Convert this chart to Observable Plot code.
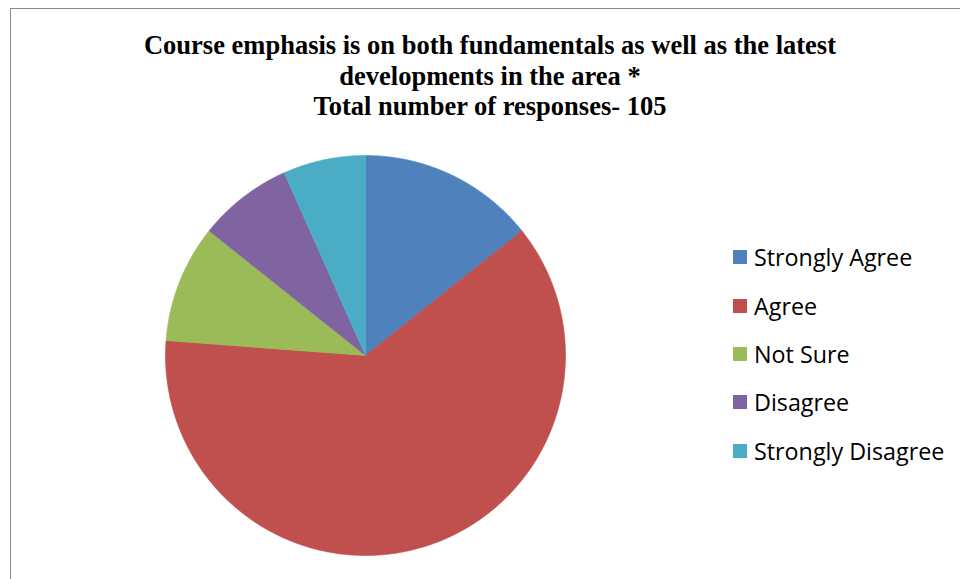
<!DOCTYPE html>
<html>
<head>
<meta charset="utf-8">
<script src="https://cdn.jsdelivr.net/npm/d3@7"></script>
<script src="https://cdn.jsdelivr.net/npm/@observablehq/plot@0.6"></script>
<style>
  html, body { margin: 0; padding: 0; background: #fff; }
  body { width: 960px; height: 579px; position: relative; overflow: hidden; }
  #border { position: absolute; left: 10px; top: 8px; width: 1000px; height: 620px; border: 1.5px solid #8a8a8a; box-sizing: border-box; }
  #chart { position: absolute; left: 0; top: 0; }
  #title { position: absolute; left: 40px; width: 900px; top: 30px; text-align: center;
    font-family: "Liberation Serif", "Times New Roman", serif; font-weight: bold; font-size: 26.5px; line-height: 30.5px; color: #000; }
  #legend { position: absolute; left: 733px; top: 233px; font-family: "Open Sans", "Liberation Sans", sans-serif; font-size: 23.3px; color: #000; }
  .item { height: 48.4px; display: flex; align-items: center; position: relative; }
  .sw { width: 14px; height: 14px; margin-right: 7px; display: inline-block; }
</style>
</head>
<body>
<div id="border"></div>
<div id="chart"></div>
<div id="title">Course emphasis is on both fundamentals as well as the latest<br>developments in the area *<br>Total number of responses- 105</div>
<div id="legend"></div>
<script>
const categories = ["Strongly Agree", "Agree", "Not Sure", "Disagree", "Strongly Disagree"];
const values = [15, 65, 10, 8, 7];
const colors = ["#4F81BD", "#C0504D", "#9BBB59", "#8064A2", "#4BACC6"];

const total = d3.sum(values);
const pts = [];
let acc = 0;
categories.forEach((c, i) => {
  const a0 = acc / total * 2 * Math.PI;
  acc += values[i];
  const a1 = acc / total * 2 * Math.PI;
  pts.push({cat: c, x: 0, y: 0});
  const n = Math.max(2, Math.ceil((a1 - a0) / 0.01));
  for (let k = 0; k <= n; k++) {
    const a = a0 + (a1 - a0) * k / n;
    pts.push({cat: c, x: Math.sin(a), y: Math.cos(a)});
  }
  pts.push({cat: c, x: 0, y: 0});
});

const chart = Plot.plot({
  width: 960,
  height: 579,
  margin: 0,
  x: {domain: [-1, 1], range: [165, 565], axis: null},
  y: {domain: [-1, 1], range: [555, 155], axis: null},
  color: {domain: categories, range: colors},
  marks: [
    Plot.line(pts, {x: "x", y: "y", z: "cat", fill: "cat", stroke: "cat", strokeWidth: 0.6, curve: "linear"})
  ]
});
document.getElementById("chart").appendChild(chart);

const legend = document.getElementById("legend");
categories.forEach((c, i) => {
  const d = document.createElement("div");
  d.className = "item";
  d.innerHTML = `<span class="sw" style="background:${colors[i]}"></span><span>${c}</span>`;
  legend.appendChild(d);
});
</script>
</body>
</html>
